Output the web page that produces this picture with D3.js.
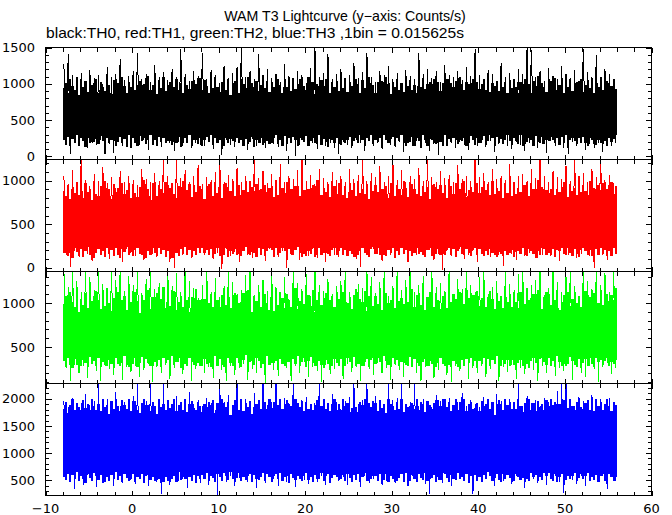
<!DOCTYPE html>
<html><head><meta charset="utf-8">
<script src="https://cdn.jsdelivr.net/npm/d3@7"></script>
<style>body{margin:0;background:#fff}svg{display:block}</style>
</head><body><svg id="c" width="672" height="515"></svg>
<script>
const title = "WAM T3 Lightcurve (y\u2212axis: Counts/s)";
const subtitle = "black:TH0, red:TH1, green:TH2, blue:TH3 ,1bin = 0.015625s";
const seriesNames = ["TH0", "TH1", "TH2", "TH3"];
const seriesColors = ["#000000", "#ff0000", "#00ff00", "#0000ff"];
const timeStart = -8, timeEnd = 56, spikeStep = 0.5, edgeStep = 0.25;

// extreme spikes (max / min) in each 0.5 s interval
const th0Hi = [1270,1410,1120,1060,1150,1010,1190,1080,1120,1000,1230,1090,1140,1340,1050,1110,
1180,1430,1070,1130,1020,1260,1100,1160,1050,1210,1090,1480,1130,1040,1170,1110,
1430,1060,1190,1120,1010,1250,1080,1150,1230,1490,1100,1170,1060,1410,1120,1200,
1080,1140,1030,1270,1110,1060,1180,1120,1010,1220,1490,1090,1150,1410,1070,1130,
1200,1050,1120,1290,1080,1160,1430,1100,1030,1180,1120,1240,1070,1150,1010,1190,
1110,1060,1430,1140,1210,1080,1170,1030,1260,1120,1090,1180,1050,1230,1110,1480,
1120,1060,1190,1140,1020,1280,1100,1150,1070,1210,1130,1490,1470,1090,1170,1040,
1220,1110,1060,1250,1130,1080,1190,1040,1480,1160,1100,1400,1070,1210,1130,1060];
const th0Lo = [180,40,210,150,230,120,190,160,220,30,170,50,200,140,240,110,
190,160,230,90,170,210,130,250,180,70,200,150,220,120,190,160,
140,210,100,180,20,230,160,130,200,170,90,240,150,190,110,210,
170,130,220,80,190,10,160,210,140,180,100,230,150,190,120,30,
200,160,110,220,180,70,210,140,190,100,230,160,130,200,60,180,
150,210,120,190,80,170,20,230,140,180,110,200,160,90,220,150,
190,130,210,60,170,230,140,100,200,160,80,190,220,120,170,50,
210,150,180,110,30,200,140,230,90,170,120,190,60,210,150,180];
const th1Hi = [1050,960,1120,990,1280,1010,940,1080,1000,1160,970,1040,920,1110,990,1060,
1010,950,1140,1020,980,1090,1000,1290,1060,970,1270,1030,1120,990,1050,1180,
960,1040,1010,1100,1300,980,1070,1020,1150,990,1060,1000,1260,1030,1110,970,
1080,1010,1190,990,1050,1020,1120,1280,1000,1070,960,1140,1030,990,1100,1010,
1060,980,1130,1020,1070,1290,1000,1090,1040,1170,990,1050,1270,1010,1120,980,
1060,1020,1150,1000,1260,1040,980,1110,1030,1070,990,1180,1020,1060,1000,1300,
1040,1090,980,1130,1020,1060,1010,1190,990,1050,1080,1000,1140,1030,1280,1060,
990,1110,1040,1020,1170,1000,1270,1060,1090,980,1130,1040,1290,1010,1070,970];
const th1Lo = [150,10,190,120,210,160,80,200,140,230,100,180,150,60,210,170,
130,190,90,220,160,120,200,150,70,0,180,140,210,110,170,190,
140,200,100,170,-20,220,130,180,60,200,150,110,190,160,80,210,
170,120,190,-10,150,200,90,170,130,220,110,180,60,200,150,120,
190,140,210,100,10,170,130,220,160,80,190,150,110,200,170,60,
210,140,180,120,200,90,160,-30,190,130,170,220,100,150,190,70,
160,200,120,180,140,20,210,160,90,190,130,170,220,110,150,180,
130,200,80,170,150,190,110,160,210,130,0,180,140,90,200,160];
const th2Hi = [1400,1180,1400,1250,1120,1400,1300,1150,1400,1220,1080,1400,1260,1400,1140,1310,
1200,1400,1110,1270,1400,1160,1230,1090,1400,1190,1340,1120,1400,1250,1170,1060,
1210,1400,1130,1280,1070,1190,1400,1240,1100,1150,1320,1400,1090,1200,1260,1140,
1400,1180,1120,1290,1050,1400,1230,1160,1330,1080,1400,1210,1140,1270,1100,1190,
1250,1400,1130,1060,1220,1170,1400,1290,1110,1240,1400,1080,1190,1400,1150,1260,
1400,1120,1200,1310,1070,1400,1180,1230,1140,1400,1090,1270,1160,1400,1210,1130,
1290,1400,1100,1180,1250,1060,1400,1220,1150,1330,1400,1120,1200,1260,1400,1090,
1170,1400,1240,1130,1300,1400,1190,1080,1400,1250,1160,1400,1210,1340,1120,1400];
const th2Lo = [260,120,300,200,280,150,320,230,110,290,250,180,310,130,270,220,
290,160,240,310,100,270,200,300,140,260,330,190,280,120,250,300,
210,270,150,320,240,110,290,180,260,310,130,250,200,280,90,300,
240,170,310,260,120,290,210,330,160,270,230,100,300,190,250,280,
140,310,220,270,110,290,250,180,320,200,260,130,300,240,160,280,
310,200,120,270,290,150,240,320,180,100,280,230,300,140,260,210,
290,160,250,320,110,270,220,300,140,260,190,310,240,120,280,200,
300,170,260,230,310,130,280,210,160,290,250,100,270,320,190,260];
const th3Hi = [1960,1850,2010,1790,1920,2080,1880,1960,2280,1830,1990,1900,2120,1860,1940,1810,
2050,2290,1890,1960,2300,1850,2000,2290,1920,1870,2060,1940,1820,2130,1900,1980,
1860,2020,1930,1800,2300,1950,2070,1880,2290,1920,1990,1840,2100,1970,2280,1890,
1950,2300,1860,2010,1930,2290,1880,1970,2040,1850,1920,2280,1990,1870,2090,1940,
1810,1960,2030,2300,1900,1980,2290,1850,2060,1930,1880,2290,1970,2020,2300,1890,
1950,2280,1870,2000,1920,1840,2070,1960,1890,2010,1830,1940,2110,1870,1980,1910,
1850,2030,1940,1880,2090,1960,1820,1990,1900,2290,1870,2050,1930,1980,1860,2020,
1940,1890,2140,2300,2290,1920,1870,2030,1960,1840,2070,1910,1990,1860,2010,1950];
const th3Lo = [600,480,330,560,420,590,510,380,620,470,540,400,580,450,610,500,
430,570,520,390,600,460,240,550,410,590,480,530,360,610,500,440,
570,420,600,230,510,460,580,390,540,610,470,500,350,590,440,560,
520,400,590,470,610,380,540,500,430,600,460,570,410,530,590,480,
560,420,610,500,370,580,450,530,600,410,490,570,440,610,520,390,
580,470,540,430,250,600,510,450,570,400,530,610,480,560,240,590,
460,520,600,390,550,480,610,430,570,500,360,590,520,450,600,410,
540,580,470,260,610,500,430,570,390,600,520,460,580,340,550,490];

// upper / lower edge of the dense band in each 0.25 s interval
const th0EdgeHi = [940,1010,880,1060,970,910,1090,850,1000,950,1040,890,1120,980,930,1070,
870,1020,960,900,1080,990,860,1050,940,1010,900,1100,970,880,1030,950,
1060,910,990,1040,870,1000,950,1110,920,980,1050,860,1020,940,1090,900,
980,1030,890,950,1070,920,1010,870,1060,990,930,1040,880,1000,960,1080,
910,1050,970,880,1020,940,1100,960,890,1030,1000,920,1070,850,990,1040,
950,880,1060,1000,930,1090,870,1010,960,1040,900,980,1120,940,1020,890,
1030,960,910,1070,990,870,1040,950,1010,900,1080,930,1000,1060,880,970,
920,1090,980,1030,860,1000,950,1050,910,1070,990,880,1020,960,1040,900,
1010,940,1080,890,1030,970,920,1060,1000,870,1050,940,990,1100,910,980,
880,1020,960,1040,930,1090,1000,860,1030,950,1070,920,1010,890,1060,970,
1050,910,990,870,1040,960,1080,930,1000,1020,880,1060,940,1030,900,1010,
960,1070,900,1010,950,1040,870,1090,980,920,1030,1000,890,1060,950,1020,
930,1000,1060,920,1080,890,1010,970,1040,900,1090,960,1020,880,1050,940,
1070,950,880,1030,990,1060,920,1000,870,1040,970,1110,930,1010,960,890,
1000,1040,940,1080,910,980,1050,880,1020,960,1070,900,990,1030,920,1060,
890,990,1050,940,1010,870,1030,960,1090,920,1000,1040,880,970,1060,930];
const th0EdgeLo = [220,160,270,140,240,190,300,150,260,210,130,250,180,290,200,240,
170,280,210,140,260,190,230,300,150,220,270,180,240,130,290,200,
250,190,140,280,210,260,170,230,300,160,220,140,270,200,250,180,
210,290,160,240,180,270,130,220,260,190,300,150,230,280,170,250,
140,230,270,200,300,160,250,190,220,280,140,260,180,240,210,290,
260,180,220,150,240,290,200,270,130,230,190,300,160,250,210,170,
190,250,300,170,220,140,280,210,250,180,270,220,140,290,230,200,
280,150,210,260,190,230,300,160,240,200,130,270,220,180,260,240,
160,300,190,220,270,150,210,250,180,290,230,140,260,210,300,170,
230,200,260,140,290,220,180,240,270,160,250,210,300,190,140,280,
200,270,150,250,210,180,290,230,140,260,220,280,170,240,200,150,
290,140,240,200,260,220,170,300,210,250,150,190,280,230,160,260,
180,230,280,160,210,300,250,140,270,190,240,170,220,290,210,250,
250,210,170,290,140,240,200,260,220,150,280,230,190,300,170,220,
210,280,230,180,250,160,270,200,290,140,220,260,210,170,250,190,
270,190,140,250,220,280,160,230,180,300,210,150,260,200,240,290];
const th1EdgeHi = [880,820,950,790,910,860,990,840,930,800,970,870,900,780,960,850,
820,940,880,1000,830,910,790,960,870,920,810,980,850,890,940,800,
950,860,810,930,890,1010,840,900,780,970,880,830,950,910,860,990,
840,920,980,850,800,940,870,1000,830,890,960,810,920,870,790,940,
900,790,870,960,920,830,990,860,940,800,910,970,850,880,1000,820,
860,950,830,890,1000,870,810,930,880,960,840,900,790,950,870,920,
930,810,970,840,880,920,860,990,800,900,850,940,880,820,980,890,
790,900,860,950,830,1010,880,840,920,870,960,810,900,940,850,970,
880,840,940,800,970,890,930,820,1000,860,910,850,960,790,920,880,
950,870,820,910,860,940,800,980,890,830,950,900,840,1000,870,810,
840,960,900,850,990,820,910,870,930,790,880,960,820,900,950,860,
910,800,880,940,850,970,830,900,860,1000,810,890,930,870,840,980,
860,930,790,890,960,840,1000,850,920,880,940,800,970,860,910,830,
990,850,920,870,810,950,880,830,970,900,840,1010,860,930,800,890,
820,910,960,840,900,870,930,990,850,810,960,880,920,840,980,870,
930,880,840,1000,860,920,800,950,890,970,830,910,870,990,850,940];
const th1EdgeLo = [170,220,130,190,110,230,180,140,210,120,190,240,150,200,110,170,
210,140,190,120,230,160,200,130,220,150,110,210,180,240,140,190,
130,200,230,160,140,210,110,190,150,230,170,130,220,160,200,120,
190,150,110,220,170,130,210,160,240,140,200,120,190,150,230,170,
230,170,200,140,210,110,160,230,130,200,150,220,120,190,160,210,
150,210,130,190,240,160,140,200,170,120,220,150,210,130,190,230,
200,120,220,150,170,230,190,130,210,160,140,200,240,170,120,160,
130,190,160,230,120,200,220,150,170,240,160,130,200,220,150,190,
220,150,200,130,190,160,120,210,140,190,230,170,150,120,210,240,
160,230,140,210,150,130,200,170,220,110,190,140,230,160,200,150,
190,130,170,220,160,210,150,120,200,230,130,190,160,210,140,170,
140,200,230,150,210,120,190,240,160,140,210,170,130,200,220,150,
210,160,130,190,140,220,170,150,120,200,160,230,190,140,170,210,
120,220,190,160,230,150,130,210,190,160,110,200,150,230,210,140,
170,140,210,120,200,190,230,160,150,220,170,130,210,160,120,200,
220,190,150,200,130,170,210,140,230,160,200,150,190,130,220,160];
const th2EdgeHi = [990,1080,920,1130,1010,950,1160,900,1050,980,1110,940,1070,1020,880,1140,
1040,930,1100,970,1170,1000,910,1060,990,1120,950,1030,1080,920,1150,1010,
960,1130,1020,890,1090,1040,980,1150,930,1070,1000,1110,960,1050,1180,940,
1100,970,1060,1140,920,1010,1080,950,1120,1030,900,1070,1000,1160,970,1040,
930,1050,1170,1000,1080,960,1120,1030,910,1090,1050,980,1140,940,1060,1110,
1070,1000,940,1110,1030,1150,990,900,1080,1020,1130,950,1040,1100,1000,920,
1140,910,1050,980,1120,1060,940,1100,1010,960,1070,1170,930,1020,1090,990,
1010,1090,970,1150,900,1040,1130,980,1060,1110,920,1030,1080,960,1120,1050,
950,1120,1040,1000,1070,930,1090,1160,990,1050,1010,1140,910,1080,1030,970,
1080,990,1130,920,1050,1110,1000,1040,1170,940,1090,1020,1060,990,1150,1010,
1020,1160,960,1090,1030,980,1140,920,1070,1120,1000,960,1110,1040,930,1080,
1130,940,1070,1010,1100,1050,970,1120,1030,990,1150,1060,980,1090,1020,1140,
970,1060,1110,950,1000,1140,1050,930,1090,1020,1080,940,1130,1010,1100,960,
1050,1010,940,1120,1080,990,1170,1040,960,1100,1030,1150,1000,930,1070,1120,
1100,980,1060,1030,1150,920,1010,1090,1040,1130,970,1050,1120,1000,1080,950,
1010,1140,990,1070,940,1110,1060,1000,1150,980,1040,1100,960,1090,1030,1170];
const th2EdgeLo = [340,290,380,310,260,360,300,400,280,350,320,270,390,310,340,290,
370,300,330,410,280,350,310,260,380,330,290,360,400,300,270,350,
310,380,270,340,390,300,360,320,280,410,330,290,350,270,380,320,
350,280,400,300,330,370,260,340,310,290,380,350,300,400,320,280,
290,360,310,380,270,330,400,290,360,310,270,340,380,320,290,370,
380,320,270,350,410,290,330,360,300,380,340,260,310,350,400,300,
320,390,340,280,360,310,280,390,330,270,360,310,400,290,330,380,
270,340,390,320,290,370,340,300,260,350,310,390,280,360,320,290,
360,300,280,370,330,260,390,350,310,380,290,330,360,270,350,400,
310,380,330,290,400,340,300,270,370,320,350,280,330,390,300,340,
390,270,360,320,280,390,330,360,290,340,310,400,270,320,370,310,
280,350,300,400,340,310,270,380,350,290,360,320,380,300,340,260,
340,310,370,270,360,290,350,310,400,330,280,370,310,350,290,380,
300,390,320,350,290,380,310,260,340,370,320,290,360,400,330,300,
370,290,340,310,400,330,290,370,280,310,390,340,300,270,360,330,
320,360,280,390,310,270,370,330,350,300,340,380,290,330,310,350];
const th3EdgeHi = [1820,1950,1740,1880,1990,1790,1920,1850,1710,1970,1830,1900,1760,2000,1870,1800,
1910,1780,1990,1840,1890,1720,1960,1810,1940,1860,1750,1980,1880,1820,2000,1770,
1850,1960,1800,1730,1930,1990,1820,1890,1780,1950,1860,1720,1990,1840,1910,1790,
1970,1830,1910,2000,1770,1880,1940,1800,1990,1750,1900,1960,1830,1790,1930,1860,
1760,1900,1840,1950,1820,1980,1740,1920,1870,2000,1800,1850,1950,1710,1890,1970,
1890,1800,1990,1780,1930,1850,1960,1720,1840,1900,1980,1810,1750,1940,1820,2000,
1830,1950,1750,1880,2000,1810,1900,1970,1790,1860,1740,1990,1920,1850,1960,1780,
1940,1820,1900,1790,1860,1980,1730,1870,1990,1810,1930,1770,1890,2000,1800,1910,
1800,1990,1870,1930,1760,1830,1970,1850,1720,1950,1880,2000,1790,1920,1840,1960,
1920,1780,1980,1830,1910,1740,1990,1900,1860,1800,1950,1820,1990,1760,1900,1850,
1860,1930,1810,2000,1790,1950,1840,1760,1960,1890,1810,1930,1740,1980,1870,1990,
1990,1840,1920,1770,1880,1990,1800,1950,1830,2000,1780,1900,1950,1820,1750,1930,
1780,1960,1850,1900,1990,1820,1940,1710,1890,1970,1860,1790,2000,1880,1940,1810,
1940,1810,2000,1860,1750,1920,1870,1990,1800,1930,1720,1960,1850,1910,1790,1980,
1870,1990,1790,1940,1840,1900,1780,1970,1920,1830,1990,1860,1800,1950,2000,1840,
1810,1920,1970,1800,1930,1770,1990,1860,1950,1790,1900,1990,1870,1780,1950,1890];
const th3EdgeLo = [560,500,620,470,600,530,650,480,580,520,440,610,540,490,630,570,
510,590,450,640,550,480,600,530,660,500,570,460,620,540,490,610,
620,470,560,520,610,440,580,630,500,550,480,640,530,590,460,560,
480,610,530,580,460,650,510,560,520,620,550,490,600,440,570,530,
600,520,640,490,570,540,470,610,560,480,630,580,510,650,520,470,
540,630,480,560,510,600,620,460,590,530,500,560,640,480,610,550,
460,570,610,530,640,490,550,580,450,620,540,510,570,530,480,620,
630,500,550,470,590,560,520,640,490,570,610,450,540,600,560,510,
520,650,490,610,540,470,600,510,620,460,560,630,490,550,520,580,
570,480,620,550,500,610,460,570,530,640,490,540,610,460,630,500,
490,600,530,460,620,560,510,630,480,580,540,600,470,560,510,640,
610,540,470,590,530,500,640,520,560,490,620,450,580,530,600,480,
550,460,600,520,650,570,480,540,610,510,470,620,520,590,540,460,
480,620,560,500,540,610,530,480,640,550,600,490,560,510,630,570,
640,520,490,610,470,560,620,550,500,580,520,570,630,480,540,610,
530,580,640,480,560,510,600,460,570,620,480,540,610,560,490,550];

// y-axis ranges and tick labels of each panel
const th0Range = [-42, 1500], th0Ticks = [0, 500, 1000, 1500];
const th1Range = [-45, 1245], th1Ticks = [0, 500, 1000];
const th2Range = [86, 1358],  th2Ticks = [500, 1000];
const th3Range = [218, 2282], th3Ticks = [500, 1000, 1500, 2000];
const xDomain = [-10, 60];
const xTickLabels = [-10, 0, 10, 20, 30, 40, 50, 60];

const panels = [
  {hi: th0Hi, lo: th0Lo, eHi: th0EdgeHi, eLo: th0EdgeLo, range: th0Range, ticks: th0Ticks},
  {hi: th1Hi, lo: th1Lo, eHi: th1EdgeHi, eLo: th1EdgeLo, range: th1Range, ticks: th1Ticks},
  {hi: th2Hi, lo: th2Lo, eHi: th2EdgeHi, eLo: th2EdgeLo, range: th2Range, ticks: th2Ticks},
  {hi: th3Hi, lo: th3Lo, eHi: th3EdgeHi, eLo: th3EdgeLo, range: th3Range, ticks: th3Ticks}
];

const svg = d3.select("#c");
const left = 45.5, right = 651.5, top0 = 47.5, panelH = 112;
const x = d3.scaleLinear().domain(xDomain).range([left, right]);
const tickFont = "'DejaVu Sans', sans-serif";
const titleFont = "'Liberation Sans', Arial, sans-serif";

svg.append("text").attr("x", 345).attr("y", 21).attr("text-anchor", "middle")
  .attr("font-family", titleFont).attr("font-size", 14.2).text(title);
svg.append("text").attr("x", 46).attr("y", 38).attr("text-anchor", "start")
  .attr("font-family", titleFont).attr("font-size", 14.2)
  .attr("textLength", 418).attr("lengthAdjust", "spacingAndGlyphs").text(subtitle);

const defs = svg.append("defs");
const minorX = d3.range(xDomain[0], xDomain[1] + 0.001, 2);

panels.forEach((p, i) => {
  const pTop = top0 + i * panelH, pBot = pTop + panelH;
  const y = d3.scaleLinear().domain(p.range).range([pBot, pTop]);
  const cid = "clip" + i;
  defs.append("clipPath").attr("id", cid).append("rect")
    .attr("x", left).attr("y", pTop).attr("width", right - left).attr("height", panelH);
  const g = svg.append("g").attr("clip-path", `url(#${cid})`);

  // dense band: step area between lower and upper edge
  const band = p.eHi.map((v, k) => ({t: timeStart + k * edgeStep, hi: v, lo: p.eLo[k]}));
  band.push({t: timeEnd, hi: p.eHi[p.eHi.length - 1], lo: p.eLo[p.eLo.length - 1]});
  g.append("path").datum(band)
    .attr("d", d3.area().curve(d3.curveStepAfter).x(d => x(d.t)).y0(d => y(d.lo)).y1(d => y(d.hi)))
    .attr("fill", seriesColors[i]).attr("shape-rendering", "crispEdges");

  // spikes: the curve swings to each interval's max and min
  const pts = [];
  p.hi.forEach((v, k) => {
    pts.push({t: timeStart + k * spikeStep + 0.125, v: v});
    pts.push({t: timeStart + k * spikeStep + 0.375, v: p.lo[k]});
  });
  g.append("path").datum(pts)
    .attr("d", d3.line().x(d => x(d.t)).y(d => y(d.v)))
    .attr("fill", "none").attr("stroke", seriesColors[i]).attr("stroke-width", 1)
    .attr("shape-rendering", "crispEdges");

  const minorY = d3.range(Math.ceil(p.range[0] / 100) * 100, p.range[1] + 0.001, 100);
  const ax = svg.append("g").attr("stroke", "#000").attr("shape-rendering", "crispEdges");
  minorY.forEach(v => {
    const len = v % 500 === 0 ? 6 : 3.5;
    const yy = Math.round(y(v)) + 0.5;
    ax.append("line").attr("x1", left).attr("x2", left + len).attr("y1", yy).attr("y2", yy);
    ax.append("line").attr("x1", right).attr("x2", right - len).attr("y1", yy).attr("y2", yy);
  });
  minorX.forEach(t => {
    const len = t % 10 === 0 ? 5 : 4;
    const xx = Math.round(x(t)) + 0.5;
    ax.append("line").attr("x1", xx).attr("x2", xx).attr("y1", pTop).attr("y2", pTop + len);
    ax.append("line").attr("x1", xx).attr("x2", xx).attr("y1", pBot).attr("y2", pBot - len);
  });
  svg.append("rect").attr("x", left).attr("y", pTop).attr("width", right - left).attr("height", panelH)
    .attr("fill", "none").attr("stroke", "#000").attr("stroke-width", 1).attr("shape-rendering", "crispEdges");
  p.ticks.forEach(v => {
    svg.append("text").attr("x", 35).attr("y", y(v)).attr("dy", "0.36em")
      .attr("text-anchor", "end").attr("font-family", tickFont).attr("font-size", 13)
      .text(String(v));
  });
});

const bottom = top0 + 4 * panelH;
xTickLabels.forEach(t => {
  svg.append("text").attr("x", x(t)).attr("y", bottom + 17).attr("text-anchor", "middle")
    .attr("font-family", tickFont).attr("font-size", 13)
    .text(t < 0 ? "\u2212" + Math.abs(t) : String(t));
});
</script></body></html>
